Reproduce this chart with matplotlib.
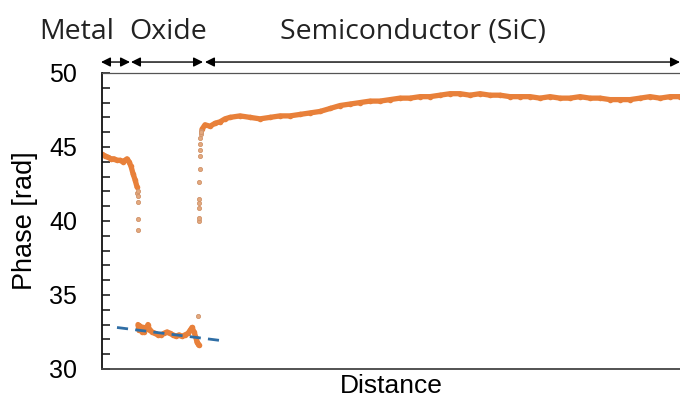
import numpy as np
import matplotlib
matplotlib.use('Agg')
import matplotlib.pyplot as plt
from matplotlib.ticker import MultipleLocator

# distance is in arbitrary units (0 .. 578 across the plot)
metal_x = [0, 3, 6, 9, 12, 15, 18, 21, 23, 25, 27, 29, 31, 33, 35]
metal_y = [44.5, 44.4, 44.3, 44.2, 44.2, 44.1, 44.1, 44.0, 44.1, 44.2, 44.0, 43.7, 43.2, 42.8, 42.3]

drop_x = [35, 36, 36, 36, 36, 36]
drop_y = [41.9, 41.7, 41.3, 40.1, 39.4, 42.0]

oxide_x = [36, 37, 38, 40, 41, 42, 44, 46, 47, 48, 50, 53, 56, 59, 62, 65, 68, 71, 74, 77, 80, 83, 86,
           88, 90, 92, 94, 95, 96, 97]
oxide_y = [33.0, 32.6, 32.9, 32.5, 32.8, 32.5, 32.7, 33.0, 32.7, 32.6, 32.5, 32.4, 32.3, 32.3, 32.4,
           32.5, 32.4, 32.3, 32.2, 32.3, 32.2, 32.3, 32.4, 32.6, 32.8, 32.5, 32.1, 31.8, 31.7, 31.6]

rise_x = [96, 97, 97, 97, 97, 97, 97, 98, 98, 98, 98, 98, 99, 99, 99]
rise_y = [33.6, 40.0, 40.2, 40.9, 41.2, 41.5, 42.6, 43.5, 44.4, 44.8, 45.2, 45.6, 45.9, 46.1, 46.0]

semi_x = [100, 103, 108, 113, 118, 123, 128, 138, 148, 158, 168, 178, 188, 198, 208, 218, 228,
          238, 248, 258, 268, 278, 288, 298, 308, 318, 328, 338, 348, 358, 368, 378, 388, 398,
          408, 418, 428, 438, 448, 458, 468, 478, 488, 498, 508, 518, 528, 538, 548, 558, 568, 578]
semi_y = [46.2, 46.5, 46.4, 46.6, 46.7, 46.9, 47.0, 47.1, 47.0, 46.9, 47.0, 47.1, 47.1, 47.2,
          47.3, 47.4, 47.6, 47.8, 47.9, 48.0, 48.1, 48.1, 48.2, 48.3, 48.3, 48.4, 48.4, 48.5,
          48.6, 48.6, 48.5, 48.6, 48.5, 48.5, 48.4, 48.4, 48.4, 48.3, 48.4, 48.3, 48.3, 48.4,
          48.3, 48.3, 48.2, 48.2, 48.2, 48.3, 48.4, 48.3, 48.4, 48.4]

fit_x = [15, 121]
fit_y = [32.8, 31.9]

regions = ['Metal', 'Oxide', 'Semiconductor (SiC)']
region_bounds = [(-1, 28), (29, 101), (103, 578)]
label_x = [-25, 66, 311]

orange = '#E8803A'

fig = plt.figure(figsize=(6.8, 4.01), dpi=100)
ax = fig.add_axes([0.15, 0.08, 0.85, 0.738])

for xs, ys in [(metal_x, metal_y), (oxide_x, oxide_y), (semi_x, semi_y)]:
    ax.plot(xs, ys, '-', color=orange, lw=3.8, solid_capstyle='round')
    ax.plot(xs, ys, 'o', color=orange, ms=4, mew=0)
ax.plot(drop_x + rise_x, drop_y + rise_y, 'o', color='#D0936A', ms=3, mew=0.6, mfc='#E3A97F')

ax.plot(fit_x, fit_y, '--', color='#2F6EA5', lw=2, dashes=(4, 2.6))

ax.set_xlim(0, 578)
ax.set_ylim(30, 50)
ax.yaxis.set_major_locator(MultipleLocator(5))
ax.yaxis.set_minor_locator(MultipleLocator(1))
ax.tick_params(axis='y', which='both', direction='in', length=5.5, width=1.2,
               labelsize=18, pad=18, color='#222222')
ax.set_xticks([])
for t in ax.get_yticklabels():
    t.set_fontfamily('Liberation Sans')

ax.spines['right'].set_visible(False)
ax.spines['left'].set_color('#111111')
ax.spines['left'].set_linewidth(1.3)
ax.spines['bottom'].set_color('#444444')
ax.spines['bottom'].set_linewidth(1.3)
ax.spines['top'].set_color('#555555')
ax.spines['top'].set_linewidth(0.9)

ax.set_ylabel('Phase [rad]', fontsize=19.5, family='Liberation Sans', labelpad=8)
ax.set_xlabel('Distance', fontsize=19, family='Liberation Sans', labelpad=4)

for (x0, x1) in region_bounds:
    ax.annotate('', xy=(x1, 1.037), xytext=(x0, 1.037), xycoords=('data', 'axes fraction'),
                textcoords=('data', 'axes fraction'), annotation_clip=False,
                arrowprops=dict(arrowstyle='<|-|>', color='black', lw=1.0,
                                mutation_scale=14, shrinkA=0, shrinkB=0))
for name, lx in zip(regions, label_x):
    ax.text(lx, 1.14, name, transform=ax.get_xaxis_transform(), ha='center', va='center',
            fontsize=20.5, family='Open Sans', color='#222222', clip_on=False)

fig.savefig('out.png', dpi=100)
